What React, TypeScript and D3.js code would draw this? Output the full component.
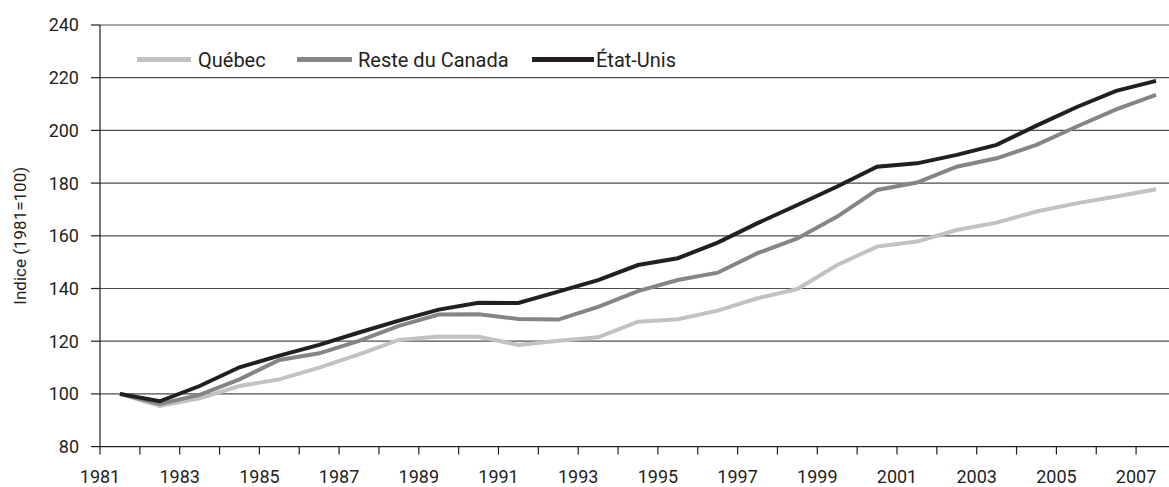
import * as d3 from 'd3'

const years = d3.range(1981, 2008)
const quebec = [100, 95.4, 98.3, 103, 105.5, 110, 115, 120.5, 121.8, 121.7, 118.6, 120.2, 121.5, 127.4, 128.3, 131.6, 136.3, 139.8, 148.9, 155.9, 157.8, 162.2, 165, 169.2, 172.3, 174.9, 177.7]
const resteCanada = [100, 96.2, 99.6, 105.5, 112.9, 115.4, 120.1, 125.8, 130.1, 130.2, 128.4, 128.2, 133, 139, 143.2, 146, 153.4, 159, 167.3, 177.4, 180.2, 186.2, 189.4, 194.5, 201.4, 208, 213.5]
const etatsUnis = [100, 97.2, 103, 110.1, 114.5, 118.6, 123.3, 127.8, 132, 134.6, 134.5, 138.8, 143.2, 148.9, 151.5, 157.4, 164.8, 171.7, 178.7, 186.2, 187.5, 190.7, 194.5, 201.8, 208.8, 215, 218.8]
const yTicks = [80, 100, 120, 140, 160, 180, 200, 220, 240]

const series = [
  { name: 'Québec', values: quebec, color: '#c2c2c2' },
  { name: 'Reste du Canada', values: resteCanada, color: '#858585' },
  { name: 'État-Unis', values: etatsUnis, color: '#231f20' },
]

const WIDTH = 1169
const HEIGHT = 487
const FONT = 'Roboto, "DejaVu Sans", sans-serif'

export default function App() {
  const left = 100
  const step = 39.85
  const x = d3.scaleBand<number>().domain(years).range([left, left + years.length * step])
  const y = d3.scaleLinear().domain([80, 240]).range([446.6, 25])

  const line = d3
    .line<number>()
    .x((_, i) => (x(years[i]) as number) + x.bandwidth() / 2)
    .y((d) => y(d))

  // legend positions (roughly as in the reference)
  const legend = [
    { x1: 137, x2: 191, tx: 198 },
    { x1: 297, x2: 352, tx: 358 },
    { x1: 532, x2: 594, tx: 596 },
  ]

  return (
    <svg width={WIDTH} height={HEIGHT} style={{ position: 'absolute', top: 0, left: 0, background: '#fff' }}>
      {/* grid lines */}
      {yTicks.slice(1).map((t) => (
        <line key={t} x1={left} x2={WIDTH} y1={y(t)} y2={y(t)} stroke="#4d4d4d" strokeWidth={1.2} />
      ))}
      {/* y axis */}
      <line x1={left} x2={left} y1={y(240)} y2={y(80)} stroke="#231f20" strokeWidth={1.2} />
      {yTicks.map((t) => (
        <g key={t}>
          <line x1={left - 9} x2={left} y1={y(t)} y2={y(t)} stroke="#231f20" strokeWidth={1.2} />
          <text x={79} y={y(t)} dy="0.36em" textAnchor="end" fontSize={18} fontFamily={FONT} fill="#231f20">
            {t}
          </text>
        </g>
      ))}
      {/* x axis */}
      <line x1={left} x2={WIDTH} y1={y(80)} y2={y(80)} stroke="#231f20" strokeWidth={1.2} />
      {years.map((yr) => (
        <line key={yr} x1={x(yr)} x2={x(yr)} y1={y(80)} y2={y(80) + 8} stroke="#231f20" strokeWidth={1.2} />
      ))}
      {years
        .filter((yr) => (yr - 1981) % 2 === 0)
        .map((yr) => (
          <text key={yr} x={x(yr)} y={483} textAnchor="middle" fontSize={18} fontFamily={FONT} fill="#231f20">
            {yr}
          </text>
        ))}
      {/* y title */}
      <text
        transform={`translate(26, ${(y(80) + y(240)) / 2}) rotate(-90)`}
        textAnchor="middle"
        fontSize={17}
        fontFamily={FONT}
        fill="#231f20"
      >
        Indice (1981=100)
      </text>
      {/* lines */}
      {series.map((s) => (
        <path key={s.name} d={line(s.values) as string} fill="none" stroke={s.color} strokeWidth={4} strokeLinejoin="miter" />
      ))}
      {/* legend */}
      {series.map((s, i) => (
        <g key={s.name}>
          <line x1={legend[i].x1} x2={legend[i].x2} y1={59.5} y2={59.5} stroke={s.color} strokeWidth={5} />
          <text x={legend[i].tx} y={59.5} dy="0.36em" fontSize={20} fontFamily={FONT} fill="#231f20">
            {s.name}
          </text>
        </g>
      ))}
    </svg>
  )
}
